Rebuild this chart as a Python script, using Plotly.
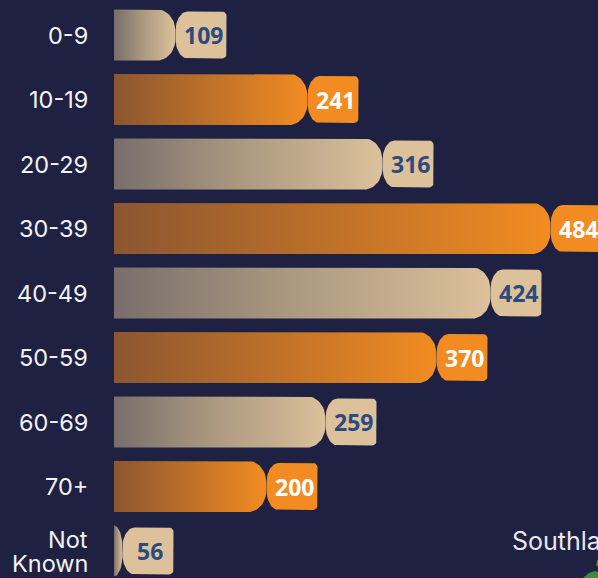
import numpy as np
import plotly.graph_objects as go

# ---- data ----
categories = ["0-9", "10-19", "20-29", "30-39", "40-49", "50-59", "60-69", "70+", "Not<br>Known"]
values = [109, 241, 316, 484, 424, 370, 259, 200, 56]
southland_label = "Southland"

# ---- style ----
BG = "#1f2142"
BEIGE_SCALE = [[0, "#786e6b"], [0.45, "#a9977f"], [1, "#dcc19b"]]
BEIGE_TAB = "#dcc19b"
ORANGE_SCALE = [[0, "#8b5630"], [1, "#f28c22"]]
ORANGE_TAB = "#f28c22"
BEIGE_TEXT = "#2c4a7e"
ORANGE_TEXT = "#ffffff"
LABEL_FONT = dict(family="Inter", size=23.5, color="#f2f2f5")

W, H = 598, 578
ML = 114
X0 = -3.5                 # bar base on the value axis
ROW_PX = 64.5             # row pitch in px
FIRST_ROW_PX = 35         # centre of first row in px
PY = 1.0 / ROW_PX         # one pixel in row units

TAB_W = 51
BODY_HH = 25.5 * PY
BODY_RX, BODY_RY = 18, 22 * PY
TAB_HH = 23.5 * PY
TAB_RX, TAB_RY = 12, 20 * PY
TAB_RR = 4.5

def arc(cx, cy, rx, ry, t0, t1, n=16):
    t = np.linspace(t0, t1, n)
    return list(cx + rx * np.cos(t)), list(cy + ry * np.sin(t))

def body_path(x0, n, yc):
    rx = min(BODY_RX, max(n - x0, 0.5))
    xs, ys = [x0, n - rx], [yc - BODY_HH, yc - BODY_HH]
    ax, ay = arc(n - rx, yc - BODY_HH + BODY_RY, rx, BODY_RY, -np.pi / 2, 0)
    xs += ax; ys += ay
    ax, ay = arc(n - rx, yc + BODY_HH - BODY_RY, rx, BODY_RY, 0, np.pi / 2)
    xs += ax; ys += ay
    xs += [x0, x0]; ys += [yc + BODY_HH, yc - BODY_HH]
    return xs, ys

def tab_path(n, r, yc):
    rry = TAB_RR * PY
    xs, ys = [n + TAB_RX, r - TAB_RR], [yc - TAB_HH, yc - TAB_HH]
    ax, ay = arc(r - TAB_RR, yc - TAB_HH + rry, TAB_RR, rry, -np.pi / 2, 0, 6)
    xs += ax; ys += ay
    ax, ay = arc(r - TAB_RR, yc + TAB_HH - rry, TAB_RR, rry, 0, np.pi / 2, 6)
    xs += ax; ys += ay
    ax, ay = arc(n + TAB_RX, yc + TAB_HH - TAB_RY, TAB_RX, TAB_RY, np.pi / 2, np.pi)
    xs += ax; ys += ay
    ax, ay = arc(n + TAB_RX, yc - TAB_HH + TAB_RY, TAB_RX, TAB_RY, np.pi, 1.5 * np.pi)
    xs += ax; ys += ay
    return xs, ys

fig = go.Figure()
annotations = []
for i, (cat, v) in enumerate(zip(categories, values)):
    beige = i % 2 == 0
    neck = v - TAB_W
    bx, by = body_path(X0, neck, i)
    fig.add_trace(go.Scatter(
        x=bx, y=by, mode="lines", line=dict(width=0), fill="toself",
        fillgradient=dict(type="horizontal", colorscale=BEIGE_SCALE if beige else ORANGE_SCALE,
                          start=X0, stop=neck),
        hoverinfo="skip", showlegend=False))
    tx, ty = tab_path(neck, v, i)
    fig.add_trace(go.Scatter(
        x=tx, y=ty, mode="lines", line=dict(width=0), fill="toself",
        fillcolor=BEIGE_TAB if beige else ORANGE_TAB,
        hoverinfo="skip", showlegend=False))
    annotations.append(dict(
        x=v - TAB_W / 2 + 2, y=i, xref="x", yref="y", text=str(v), showarrow=False,
        xanchor="center", yanchor="middle",
        font=dict(family="Open Sans", size=23, color=BEIGE_TEXT if beige else ORANGE_TEXT,
                  weight="bold")))
    lines = cat.split("<br>")
    for j, line in enumerate(lines):
        off = (j - (len(lines) - 1) / 2) * 24 * PY
        annotations.append(dict(
            x=-24 / (W - ML), y=i + off, xref="paper", yref="y", text=line, showarrow=False,
            xanchor="right", yanchor="middle", height=24 if len(lines) > 1 else None,
            font=LABEL_FONT))

annotations.append(dict(
    x=(510 - ML) / (W - ML), y=1 - 541 / H, xref="paper", yref="paper",
    text=southland_label, showarrow=False, xanchor="left", yanchor="middle",
    font=dict(family="Inter", size=25, color="#e8e8ee")))

def px(x, y):
    return f"{(x - ML) / (W - ML):.5f},{1 - y / H:.5f}"

green = "#3d8b3d"
shapes = [
    dict(type="path", xref="paper", yref="paper", line=dict(width=0), fillcolor=green,
         path=f"M {px(583,578)} L {px(589,573)} L {px(595,571)} L {px(598,572)} L {px(598,578)} Z"),
    dict(type="path", xref="paper", yref="paper", line=dict(width=0), fillcolor=green,
         path=f"M {px(596,566)} L {px(597,561)} L {px(598,559)} L {px(598,566)} Z"),
]

fig.update_layout(
    width=W, height=H,
    margin=dict(l=ML, r=0, t=0, b=0),
    paper_bgcolor=BG, plot_bgcolor=BG,
    xaxis=dict(range=[X0, X0 + (W - ML)], visible=False, fixedrange=True),
    yaxis=dict(range=[(H - FIRST_ROW_PX) / ROW_PX, -FIRST_ROW_PX / ROW_PX],
               visible=False, fixedrange=True),
    annotations=annotations,
    shapes=shapes,
    showlegend=False,
)

fig.write_html("out.html")
